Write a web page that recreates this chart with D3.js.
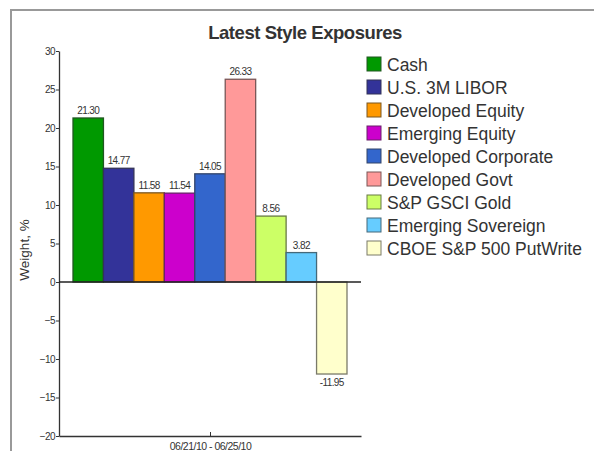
<!DOCTYPE html>
<html>
<head>
<meta charset="utf-8">
<script src="https://cdn.jsdelivr.net/npm/d3@7"></script>
<style>
  body { margin: 0; background: #fff; }
  svg { font-family: "Liberation Sans", Arial, sans-serif; }
</style>
</head>
<body>
<svg width="594" height="451"></svg>
<script>
const categories = [
  "Cash",
  "U.S. 3M LIBOR",
  "Developed Equity",
  "Emerging Equity",
  "Developed Corporate",
  "Developed Govt",
  "S&P GSCI Gold",
  "Emerging Sovereign",
  "CBOE S&P 500 PutWrite"
];
const weights = [21.30, 14.77, 11.58, 11.54, 14.05, 26.33, 8.56, 3.82, -11.95];
const colors = [
  "#009900", "#333399", "#ff9900", "#cc00cc", "#3366cc",
  "#ff9999", "#ccff66", "#66ccff", "#ffffcc"
];
const yTicks = [-20, -15, -10, -5, 0, 5, 10, 15, 20, 25, 30];
const period = "06/21/10 - 06/25/10";

const svg = d3.select("svg");

// frame (only top and left edges show)
svg.append("path")
  .attr("d", "M11,451 V10 H594")
  .attr("fill", "none")
  .attr("stroke", "#999")
  .attr("stroke-width", 2);

svg.append("text")
  .attr("x", 305)
  .attr("y", 39)
  .attr("text-anchor", "middle")
  .attr("font-size", 18.5)
  .attr("letter-spacing", -0.45)
  .attr("font-weight", "bold")
  .attr("fill", "#333")
  .text("Latest Style Exposures");

const plotLeft = 59, plotRight = 361, plotTop = 51, plotBottom = 436;

const x = d3.scaleBand()
  .domain(categories)
  .range([plotLeft, plotRight])
  .paddingInner(0)
  .paddingOuter(0.46);

const y = d3.scaleLinear()
  .domain([-20, 30])
  .range([plotBottom, plotTop]);

const stroke = c => d3.interpolateRgb(c, "#333")(0.65);

// bars
svg.append("g")
  .selectAll("rect")
  .data(weights)
  .join("rect")
  .attr("x", (d, i) => x(categories[i]))
  .attr("y", d => y(Math.max(0, d)))
  .attr("width", x.bandwidth())
  .attr("height", d => Math.abs(y(d) - y(0)))
  .attr("fill", (d, i) => colors[i])
  .attr("stroke", (d, i) => stroke(colors[i]))
  .attr("stroke-width", 1.3);

// value labels
svg.append("g")
  .selectAll("text")
  .data(weights)
  .join("text")
  .attr("x", (d, i) => x(categories[i]) + x.bandwidth() / 2)
  .attr("y", d => d >= 0 ? y(d) - 4 : y(d) + 12)
  .attr("text-anchor", "middle")
  .attr("font-size", 10)
  .attr("letter-spacing", -0.6)
  .attr("fill", "#333")
  .text(d => d.toFixed(2));

// y axis
const yAxis = svg.append("g")
  .attr("transform", `translate(${plotLeft},0)`)
  .call(d3.axisLeft(y).tickValues(yTicks).tickSize(3).tickPadding(1).tickSizeOuter(0));
yAxis.select(".domain").attr("stroke", "#333").attr("stroke-width", 1.3);
yAxis.selectAll(".tick line").attr("stroke", "#333");
yAxis.selectAll(".tick text")
  .attr("font-size", 10)
  .attr("letter-spacing", -0.6)
  .attr("fill", "#333")
  .attr("font-family", "Liberation Sans, Arial, sans-serif");

// zero line
svg.append("line")
  .attr("x1", plotLeft).attr("x2", plotRight)
  .attr("y1", y(0)).attr("y2", y(0))
  .attr("stroke", "#222")
  .attr("stroke-width", 1.3);

// bottom axis
const xAxis = svg.append("g")
  .attr("transform", `translate(0,${plotBottom})`)
  .call(d3.axisBottom(d3.scalePoint().domain([period]).range([plotLeft, plotRight]).padding(0.5))
    .tickSize(4).tickPadding(3).tickSizeOuter(0));
xAxis.select(".domain").attr("stroke", "#333").attr("stroke-width", 1.3);
xAxis.selectAll(".tick line").attr("stroke", "#333").attr("transform", "translate(0,-4)");
xAxis.selectAll(".tick text")
  .attr("font-size", 10.5)
  .attr("letter-spacing", -0.5)
  .attr("fill", "#333")
  .attr("font-family", "Liberation Sans, Arial, sans-serif");

svg.append("text")
  .attr("transform", `translate(29,250) rotate(-90)`)
  .attr("text-anchor", "middle")
  .attr("font-size", 13.5)
  .attr("fill", "#333")
  .text("Weight, %");

// legend
const legend = svg.append("g")
  .selectAll("g")
  .data(categories)
  .join("g")
  .attr("transform", (d, i) => `translate(367,${57 + i * 23})`);

legend.append("rect")
  .attr("width", 14)
  .attr("height", 14)
  .attr("fill", (d, i) => colors[i])
  .attr("stroke", (d, i) => stroke(colors[i]))
  .attr("stroke-width", 1);

legend.append("text")
  .attr("x", 20)
  .attr("y", 14)
  .attr("font-size", 17.5)
  .attr("fill", "#333")
  .text(d => d);
</script>
</body>
</html>
